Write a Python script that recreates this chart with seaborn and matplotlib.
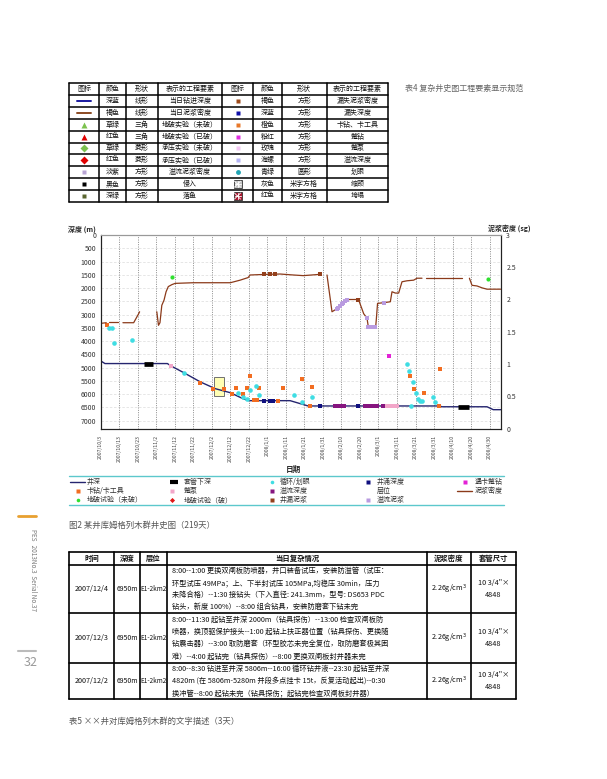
import numpy as np
import pandas as pd
import matplotlib
matplotlib.use('Agg')
import matplotlib.pyplot as plt
import seaborn as sns
from matplotlib.patches import Rectangle

sns.set_theme(style='white')
plt.rcParams['font.family'] = ['Noto Sans CJK SC', 'DejaVu Sans']

# ---------------- chart data (x = days since 2007/10/3) ----------------
date_ticks = ['2007/10/3', '2007/10/13', '2007/10/23', '2007/11/2', '2007/11/12',
              '2007/11/22', '2007/12/2', '2007/12/12', '2007/12/22', '2008/1/1',
              '2008/1/11', '2008/1/21', '2008/1/31', '2008/2/10', '2008/2/20',
              '2008/3/1', '2008/3/11', '2008/3/21', '2008/3/31', '2008/4/10',
              '2008/4/20', '2008/4/30']
depth_ticks = list(range(0, 7001, 500))
sg_ticks = [0, 0.5, 1, 1.5, 2, 2.5, 3]
sg_labels = ['0', '0.5', '1', '1.5', '2', '2.5', '3']

# 井深
well_day = [0, 2.3, 36, 38, 45, 54, 62, 70, 77, 80, 102.3, 112, 183.4, 184, 208.6, 212, 216]
well_depth = [4750, 4850, 4850, 4940, 5200, 5550, 5800, 5950, 6180, 6250, 6250, 6450,
              6450, 6480, 6480, 6590, 6590]

# 套管下深
casing_day = [23.2, 28.4, 193.1, 199.1]
casing_depth = [4850, 4850, 6480, 6480]
casing_seg = [0, 0, 1, 1]

# 泥浆密度 (segments with gaps)
mud_day = [0, 3,
           4.5, 9.5,
           12, 17.8, 20.5, 21,
           30.3, 31.2, 32, 33, 34.2, 35.3, 36.5, 38.4, 40.2, 50, 70, 75.3, 79.6, 80.7,
           89.7, 96.9, 104, 109.4, 118.5,
           122.2, 124.9, 126.6, 127.7, 133, 139.2, 141, 142, 143.8, 144.5, 148.5, 148.8,
           149.5, 152.8, 156.4, 157.3, 159.1, 160.9, 162.7, 165.4, 169, 170.8, 173.5,
           175.8, 195,
           199.1, 200.5, 203.2, 206, 208.6, 216]
mud_sg = [1.63, 1.64,
          1.645, 1.645,
          1.64, 1.64, 1.78, 1.81,
          1.81, 1.60, 1.64, 1.91, 1.99, 2.12, 2.20, 2.23, 2.25, 2.26, 2.26, 2.30, 2.34, 2.38,
          2.39, 2.395, 2.38, 2.37, 2.39,
          2.38, 1.81, 1.84, 1.84, 2.00, 2.00, 1.86, 1.78, 1.71, 1.58, 1.58, 1.68,
          1.94, 1.95, 1.965, 2.12, 2.10, 2.10, 2.275, 2.29, 2.30, 2.33, 2.33,
          2.33, 2.33,
          2.33, 2.22, 2.21, 2.18, 2.16, 2.16]
mud_seg = [0] * 2 + [1] * 2 + [2] * 4 + [3] * 19 + [4] * 23 + [5] * 2 + [6] * 6

# 溢流泥浆 (sg)
ofmud_day = [127.6, 128.4, 129.4, 130.3, 131.1, 132.1, 133, 143.8, 144.6, 145.6, 146.5,
             147.4, 148.3, 152.8]
ofmud_sg = [1.85, 1.87, 1.90, 1.93, 1.95, 1.98, 2.00, 1.71, 1.58, 1.58, 1.58, 1.58, 1.58, 1.95]

# 井漏泥浆 (sg)
loss_day = [88.3, 91.5, 94.0, 118.5, 139.2]
loss_sg = [2.39, 2.39, 2.39, 2.39, 2.00]

# 地破试验（未破） (sg)
lot_day = [38.4, 209.2]
lot_sg = [2.35, 2.32]

# 卡钻/卡工具
stuck_day = [3.2, 53.7, 60.9, 66.6, 70.8, 73.1, 76.8, 78.9, 80.7, 82.9, 84.6, 85.7, 96,
             98.7, 108.6, 112.8, 114.1, 167.2, 169, 174.4, 182.5, 183.4]
stuck_depth = [3400, 5570, 5800, 5800, 5985, 5760, 5985, 5760, 5320, 6240, 6240, 5770,
               6260, 5760, 5450, 6450, 5735, 5320, 5800, 5960, 6450, 5050]

# 循环/划眼
ream_day = [4.6, 6.1, 7.2, 16.9, 44.8, 74.4, 77.1, 78.9, 80.7, 84, 85.7, 104.5, 108.8,
            114, 165.4, 166.3, 168.4, 170.3, 171.4, 172.6, 173.5, 179.5, 180.7, 167.6]
ream_depth = [3490, 3510, 4070, 3970, 5215, 5950, 6110, 6175, 5860, 5710, 6020, 6050,
              6300, 6120, 4860, 5130, 5545, 5945, 6175, 6260, 6260, 6110, 6300, 6450]

# 井涌深度
kick_day = [88.4, 91.5, 93.3, 118.5, 139.2]
kick_depth = [6260, 6260, 6260, 6450, 6450]

# 溢流深度
of_day = [126.5, 127.7, 128.9, 130.1, 131.6, 142.9, 144.2, 145.6, 146.9, 148.3, 149.4, 152.4]
of_depth = [6450] * 12

# 蹩泵
pump_day = [38, 154.8, 156.1, 157.5, 158.8, 160]
pump_depth = [4937, 6450, 6450, 6450, 6450, 6450]

# 遇卡蹩钻
torque_day = [155.5]
torque_depth = [4550]

# 层位 box
zone_day = [61.2, 66.6]
zone_depth = [5354, 6085]

C_WELL = '#25256f'
C_MUD = '#8b3a1a'
C_ORANGE = '#f26d21'
C_CYAN = '#3fdde3'
C_NAVY = '#10107f'
C_PURPLE = '#86157f'
C_PINK = '#f2a6c9'
C_MAGENTA = '#e322d6'
C_LPURPLE = '#b99be0'
C_GREEN = '#2fe02f'
C_RED = '#e01818'

W, H = 607, 779
fig = plt.figure(figsize=(W / 100, H / 100), dpi=100)
fig.patch.set_facecolor('white')

# page overlay in pixel coordinates
pg = fig.add_axes([0, 0, 1, 1])
pg.set_xlim(0, W)
pg.set_ylim(H, 0)
pg.axis('off')


def px_box(x0, y0, x1, y1):
    return [x0 / W, 1 - y1 / H, (x1 - x0) / W, (y1 - y0) / H]


# ---------------- table 4 (legend spec) ----------------
cx = [69.3, 99.3, 125.7, 158.3, 221.7, 253.3, 281.7, 326.7, 388.3]
ry = [83 + 11.9 * i for i in range(11)]
for x in cx:
    pg.plot([x, x], [ry[0], ry[-1]], color='black', lw=1.1)
for y in ry:
    pg.plot([cx[0], cx[-1]], [y, y], color='black', lw=1.1)

head4 = ['图标', '颜色', '形状', '表示的工程要素', '图标', '颜色', '形状', '表示的工程要素']
left4 = [('深蓝', '线形', '当日钻进深度'), ('褐色', '线形', '当日泥浆密度'),
         ('草绿', '三角', '地破实验（未破）'), ('红色', '三角', '地破实验（已破）'),
         ('草绿', '菱形', '承压实验（未破）'), ('红色', '菱形', '承压实验（已破）'),
         ('淡紫', '方形', '溢流泥浆密度'), ('黑色', '方形', '侵入'), ('深绿', '方形', '落鱼')]
right4 = [('褐色', '方形', '漏失泥浆密度'), ('深蓝', '方形', '漏失深度'),
          ('橙色', '方形', '卡钻、卡工具'), ('粉红', '方形', '蹩钻'),
          ('玫瑰', '方形', '蹩泵'), ('海螺', '方形', '溢流深度'),
          ('青绿', '圆形', '划眼'), ('灰色', '米字方格', '缩颈'), ('红色', '米字方格', '垮塌')]
ccen = [(cx[i] + cx[i + 1]) / 2 for i in range(8)]
rcen = [(ry[i] + ry[i + 1]) / 2 for i in range(10)]
for j, t in enumerate(head4):
    pg.text(ccen[j], rcen[0], t, fontsize=5, ha='center', va='center', color='#111')
for i in range(9):
    y = rcen[i + 1]
    for k, t in enumerate(left4[i]):
        pg.text(ccen[k + 1], y, t, fontsize=5, ha='center', va='center', color='#111')
    for k, t in enumerate(right4[i]):
        pg.text(ccen[k + 5], y, t, fontsize=5, ha='center', va='center', color='#111')

ix, jx = ccen[0], ccen[4]
pg.plot([ix - 7, ix + 7], [rcen[1]] * 2, color='#1a1aa0', lw=1.4)
pg.plot([ix - 7, ix + 7], [rcen[2]] * 2, color='#8b4a22', lw=1.4)
pg.plot(ix, rcen[3], marker='^', ms=5, color='#7cc24e', mec='none')
pg.plot(ix, rcen[4], marker='^', ms=5, color='#e00000', mec='none')
pg.plot(ix, rcen[5], marker='D', ms=4, color='#7cc24e', mec='none')
pg.plot(ix, rcen[6], marker='D', ms=4, color='#e00000', mec='none')
pg.plot(ix, rcen[7], marker='s', ms=3.5, color='#b8a4d4', mec='none')
pg.plot(ix, rcen[8], marker='s', ms=3.5, color='black', mec='none')
pg.plot(ix, rcen[9], marker='s', ms=3.5, color='#5a6630', mec='none')
pg.plot(jx, rcen[1], marker='s', ms=3.5, color='#9c4a1a', mec='none')
pg.plot(jx, rcen[2], marker='s', ms=3.5, color='#1010a8', mec='none')
pg.plot(jx, rcen[3], marker='s', ms=3.5, color='#e8782a', mec='none')
pg.plot(jx, rcen[4], marker='s', ms=3.5, color='#e030e0', mec='none')
pg.plot(jx, rcen[5], marker='s', ms=3.5, color='#f4c8f4', mec='none')
pg.plot(jx, rcen[6], marker='s', ms=3.5, color='#b4b4f4', mec='none')
pg.plot(jx, rcen[7], marker='o', ms=3.5, color='#20a4b4', mec='none')
for r, fc in [(8, '#c4c4c4'), (9, '#a81830')]:
    yc = rcen[r]
    pg.add_patch(Rectangle((jx - 4, yc - 4), 8, 8, fc=fc, ec='#333', lw=0.6))
    for dx, dy in [(3, 3), (3, -3), (3, 0), (0, 3)]:
        pg.plot([jx - dx, jx + dx], [yc - dy, yc + dy], color='white', lw=0.6)

pg.text(405, 88, '表4 复杂井史图工程要素显示规范', fontsize=5.8, color='#666',
        ha='left', va='center')

# ---------------- main chart ----------------
ax = fig.add_axes(px_box(100.7, 235, 500.7, 428.5))
ax2 = ax.twinx()

well_df = pd.DataFrame({'day': well_day, 'depth': well_depth})
casing_df = pd.DataFrame({'day': casing_day, 'depth': casing_depth, 'seg': casing_seg})
mud_df = pd.DataFrame({'day': mud_day, 'sg': mud_sg, 'seg': mud_seg})

sns.lineplot(data=well_df, x='day', y='depth', color=C_WELL, lw=1.0, ax=ax,
             estimator=None, sort=False, legend=False)
sns.lineplot(data=casing_df, x='day', y='depth', units='seg', estimator=None,
             color='black', lw=3.4, ax=ax, legend=False, solid_capstyle='butt')

ax.add_patch(Rectangle((zone_day[0], zone_depth[0]), zone_day[1] - zone_day[0],
                       zone_depth[1] - zone_depth[0], fc='#ffffb4', ec='#707070',
                       lw=0.7, zorder=1.5))

mk = dict(s=11, linewidth=0, ax=ax, legend=False, zorder=3)
sns.scatterplot(x=stuck_day, y=stuck_depth, marker='s', color=C_ORANGE, **mk)
sns.scatterplot(x=ream_day, y=ream_depth, marker='o', color=C_CYAN, **mk)
sns.scatterplot(x=kick_day, y=kick_depth, marker='s', color=C_NAVY, **mk)
sns.scatterplot(x=of_day, y=of_depth, marker='s', color=C_PURPLE, **mk)
sns.scatterplot(x=pump_day, y=pump_depth, marker='s', color=C_PINK, **mk)
sns.scatterplot(x=torque_day, y=torque_depth, marker='s', color=C_MAGENTA, **mk)

sns.lineplot(data=mud_df, x='day', y='sg', units='seg', estimator=None, color=C_MUD,
             lw=0.9, ax=ax2, legend=False)
mk2 = dict(s=11, linewidth=0, ax=ax2, legend=False, zorder=3)
sns.scatterplot(x=ofmud_day, y=ofmud_sg, marker='s', color=C_LPURPLE, **mk2)
sns.scatterplot(x=loss_day, y=loss_sg, marker='s', color='#93401c', **mk2)
sns.scatterplot(x=lot_day, y=lot_sg, marker='o', color=C_GREEN, s=9, linewidth=0,
                ax=ax2, legend=False, zorder=3)

tick_days = [(pd.Timestamp(d) - pd.Timestamp('2007-10-03')).days for d in
             pd.to_datetime(date_ticks, format='%Y/%m/%d')]
ax.set_xlim(0, 216)
ax.set_ylim(7300, 0)
ax.set_xticks(tick_days)
ax.set_xticklabels(date_ticks, rotation=90, fontsize=3.7, color='#444')
ax.set_yticks(depth_ticks)
ax.set_yticklabels([str(v) for v in depth_ticks], fontsize=5, color='#333')
ax2.set_ylim(0, 3)
ax2.set_yticks(sg_ticks)
ax2.set_yticklabels(sg_labels, fontsize=5, color='#333')
ax.tick_params(axis='both', length=0)
ax.tick_params(axis='x', pad=4.5)
ax.tick_params(axis='y', pad=3.2)
ax2.tick_params(axis='y', length=0, pad=4)
ax.set_xlabel('')
ax.set_ylabel('')
ax2.set_ylabel('')
ax.grid(False)
ax2.grid(False)
for d in tick_days[1:]:
    ax.axvline(d, color='#8a8a8a', lw=0.7, ls=(0, (1, 1.4)), zorder=0.5)
for v in depth_ticks[1:]:
    ax.axhline(v, color='#e2e2e2', lw=0.6, ls=(0, (3, 2)), zorder=0.4)
for a in (ax, ax2):
    for s in a.spines.values():
        s.set_color('#222')
        s.set_linewidth(0.8)
ax.spines['top'].set_color('#999')
ax2.spines['top'].set_color('#999')

pg.text(68, 229, '深度 (m)', fontsize=5, color='#222', ha='left', va='center',
        fontweight='bold')
pg.text(488, 228.5, '泥浆密度 (sg)', fontsize=5, color='#222', ha='left', va='center',
        fontweight='bold')
pg.text(293, 469.5, '日期', fontsize=5.5, color='#222', ha='center', va='center',
        fontweight='bold')

# ---------------- chart legend ----------------
pg.plot([69, 504], [475.7, 475.7], color='#5cc8cc', lw=1)
pg.plot([69, 504], [505.3, 505.3], color='#5cc8cc', lw=1)
mx = [78.3, 171.7, 271.7, 368.3, 465]
tx = [86.7, 183.3, 280, 376.7, 475]
ly = [481.7, 491, 500.3]
leg = [[('line', C_WELL, '井深'), ('bar', 'black', '套管下深'), ('o', C_CYAN, '循环/划眼'),
        ('s', C_NAVY, '井涌深度'), ('s', C_MAGENTA, '遇卡蹩钻')],
       [('s', C_ORANGE, '卡钻/卡工具'), ('s', C_PINK, '蹩泵'), ('s', C_PURPLE, '溢流深度'),
        (None, None, '层位'), ('line', C_MUD, '泥浆密度')],
       [('o', C_GREEN, '地破试验（未破）'), ('D', C_RED, '地破试验（破）'),
        ('s', '#93401c', '井漏泥浆'), ('s', C_LPURPLE, '溢流泥浆'), None]]
for r, row in enumerate(leg):
    for c, item in enumerate(row):
        if item is None:
            continue
        kind, col, label = item
        y = ly[r]
        if kind == 'line':
            pg.plot([mx[c] - 8, mx[c] + 7], [y, y], color=col, lw=1)
        elif kind == 'bar':
            pg.plot([mx[c] - 2, mx[c] + 6], [y, y], color=col, lw=3, solid_capstyle='butt')
        elif kind is not None:
            pg.plot(mx[c], y, marker=kind, ms=2.6, color=col, mec='none')
        pg.text(tx[c], y, label, fontsize=5, color='#333', ha='left', va='center')

pg.text(69, 525, '图2 某井库姆格列木群井史图（219天）', fontsize=6, color='#555',
        ha='left', va='center')

# ---------------- table 5 ----------------
bx = [69.3, 114, 140, 167.3, 426.7, 470.7, 515.7]
by = [552, 565, 613.3, 662.7, 699.3]
for x in bx:
    pg.plot([x, x], [by[0], by[-1]], color='black', lw=1.2)
for y in by:
    pg.plot([bx[0], bx[-1]], [y, y], color='black', lw=1.2)
head5 = ['时间', '深度', '层位', '当日复杂情况', '泥浆密度', '套管尺寸']
for j, t in enumerate(head5):
    pg.text((bx[j] + bx[j + 1]) / 2, (by[0] + by[1]) / 2, t, fontsize=5.3, ha='center',
            va='center', color='#111', fontweight='bold')
rows5 = [
    ('2007/12/4', ['8:00--1:00 更换双闸板防喷器，井口装备试压，安装防溢管（试压：',
                   '环型试压 49MPa；上、下半封试压 105MPa,均稳压 30min，压力',
                   '未降合格）--1:30 接钻头（下入直径: 241.3mm，型号: DS653 PDC',
                   '钻头，新度 100%）--8:00 组合钻具，安装防磨套下钻未完']),
    ('2007/12/3', ['8:00--11:30 起钻至井深 2000m（钻具探伤）--13:00 检查双闸板防',
                   '喷器，换顶驱保护接头--1:00 起钻上扶正器位置（钻具探伤、更换随',
                   '钻震击器）--3:00 取防磨套（环型胶芯未完全复位，取防磨套极其困',
                   '难）--4:00 起钻完（钻具探伤）--8:00 更换双闸板封井器未完']),
    ('2007/12/2', ['8:00--8:30 钻进至井深 5806m--16:00 循环钻井液--23:30 起钻至井深',
                   '4820m (在 5806m-5280m 井段多点挂卡 15t，反复活动起出)--0:30',
                   '换冲管--8:00 起钻未完（钻具探伤；起钻完检查双闸板封井器）']),
]
for i, (day, lines) in enumerate(rows5):
    y0, y1 = by[i + 1], by[i + 2]
    yc = (y0 + y1) / 2
    pg.text((bx[0] + bx[1]) / 2, yc, day, fontsize=5.2, ha='center', va='center', color='#111')
    pg.text((bx[1] + bx[2]) / 2, yc, '6950m', fontsize=5, ha='center', va='center', color='#111')
    pg.text((bx[2] + bx[3]) / 2, yc, 'E1-2km2', fontsize=4.6, ha='center', va='center',
            color='#111')
    pg.text((bx[4] + bx[5]) / 2, yc, '2.26g/cm$^3$', fontsize=5.2, ha='center', va='center',
            color='#111')
    pg.text((bx[5] + bx[6]) / 2, yc - 6, '10 3/4"×', fontsize=5.2, ha='center', va='center',
            color='#111')
    pg.text((bx[5] + bx[6]) / 2, yc + 6, '4848', fontsize=5.2, ha='center', va='center',
            color='#111')
    n = len(lines)
    step = (y1 - y0) / n
    for k, t in enumerate(lines):
        pg.text(171.5, y0 + step * (k + 0.5), t, fontsize=5.2, ha='left', va='center',
                color='#111')

pg.text(69, 721, '表5 ××井对库姆格列木群的文字描述（3天）', fontsize=6, color='#555',
        ha='left', va='center')

# ---------------- page margin ----------------
pg.plot([18, 36], [516, 516], color='#e8a030', lw=2)
pg.text(33, 570, 'PES   2013No.3  Serial No.37', fontsize=4.6, color='#777',
        rotation=270, ha='center', va='center')
pg.plot([18, 36], [651, 651], color='#bbbbbb', lw=1.5)
pg.text(31, 662, '32', fontsize=9, color='#999', ha='center', va='center')

fig.savefig('out.png', dpi=100)
